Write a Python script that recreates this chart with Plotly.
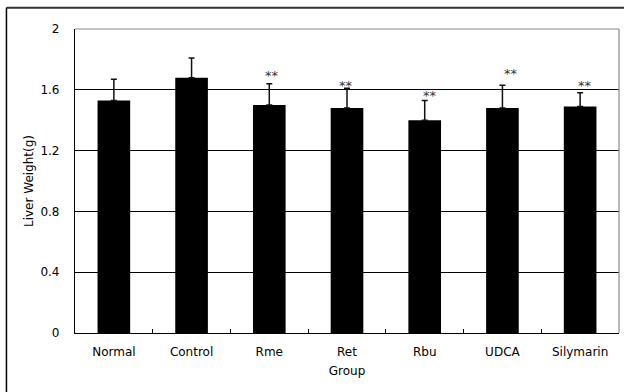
import plotly.graph_objects as go

# Liver weight per treatment group (mean and SD, g)
groups = ["Normal", "Control", "Rme", "Ret", "Rbu", "UDCA", "Silymarin"]
liver_weight = [1.53, 1.68, 1.50, 1.48, 1.40, 1.48, 1.49]
liver_sd = [0.14, 0.13, 0.14, 0.13, 0.13, 0.15, 0.09]
significance = ["", "", "**", "**", "**", "**", "**"]

y_ticks = [0, 0.4, 0.8, 1.2, 1.6, 2]
y_tick_text = ["0", "0.4", "0.8", "1.2", "1.6", "2"]

# pixel nudges for the significance marks above each error bar
star_dy = [0, 0, 8, 3, 5, 12, 7]
star_dx = [0, 0, 3, -1, 5, 9, 5]

FONT = "DejaVu Sans"

fig = go.Figure()
fig.add_trace(go.Bar(
    x=groups,
    y=liver_weight,
    width=0.42,
    marker=dict(color="#000000", line=dict(width=0)),
    error_y=dict(
        type="data",
        symmetric=False,
        array=liver_sd,
        arrayminus=[0] * len(liver_sd),
        color="#111111",
        thickness=1.5,
        width=3,
    ),
    showlegend=False,
))

for g, m, s, mark, dy, dx in zip(groups, liver_weight, liver_sd, significance, star_dy, star_dx):
    if mark:
        fig.add_annotation(
            x=g, y=m + s, text=mark, showarrow=False,
            yanchor="middle", yshift=dy, xshift=dx,
            font=dict(family=FONT, size=13, color="#333333"),
        )

# outer frame (top and left edges)
fig.add_shape(type="line", xref="paper", yref="paper",
              x0=-0.126, x1=1.02, y0=1.0695, y1=1.0695,
              line=dict(color="#333333", width=2))
fig.add_shape(type="line", xref="paper", yref="paper",
              x0=-0.126, x1=-0.126, y0=-0.2, y1=1.0695,
              line=dict(color="#000000", width=1.5))
# plot area border (top and right, grey)
fig.add_shape(type="line", xref="paper", yref="paper",
              x0=0, x1=1, y0=1, y1=1, line=dict(color="#8a8a8a", width=1.2))
fig.add_shape(type="line", xref="paper", yref="paper",
              x0=1, x1=1, y0=0, y1=1, line=dict(color="#8a8a8a", width=1.2))

fig.update_layout(
    width=624, height=392,
    margin=dict(l=75, r=5, t=29, b=59),
    paper_bgcolor="white", plot_bgcolor="white",
    font=dict(family=FONT, size=12, color="#000000"),
    bargap=0.58,
    xaxis=dict(
        type="category",
        range=[-0.5, 6.5],
        showline=True, linecolor="#000000", linewidth=1.2,
        ticks="inside", tickson="boundaries", ticklen=4, tickcolor="#000000",
        showgrid=False,
        tickfont=dict(family=FONT, size=12),
        ticklabelstandoff=7,
        title=dict(text="Group", font=dict(family=FONT, size=12), standoff=9),
    ),
    yaxis=dict(
        range=[0, 2],
        tickvals=y_ticks, ticktext=y_tick_text,
        showline=True, linecolor="#000000", linewidth=1.2,
        ticks="", showgrid=True, gridcolor="#000000", gridwidth=1,
        zeroline=False,
        tickfont=dict(family=FONT, size=12),
        ticklabelstandoff=12,
        title=dict(text="Liver Weight(g)", font=dict(family=FONT, size=12), standoff=4),
    ),
)

fig.write_html("out.html")
